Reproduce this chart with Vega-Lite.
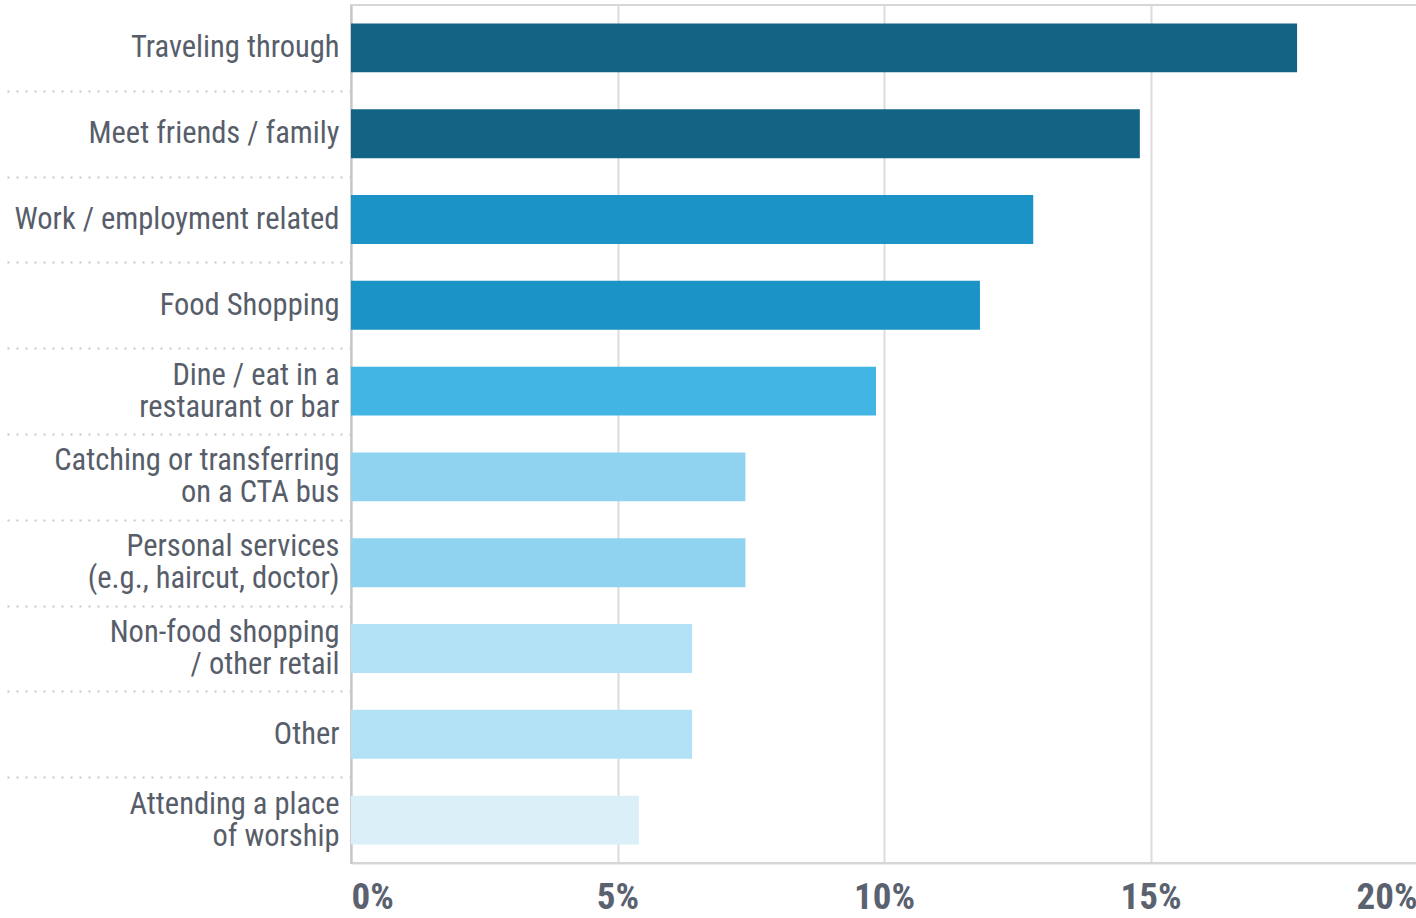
{
  "$schema": "https://vega.github.io/schema/vega-lite/v6.json",
  "width": 1066,
  "height": 858,
  "autosize": {"type": "none"},
  "padding": {"left": 351, "top": 5, "right": 0, "bottom": 55},
  "background": "white",
  "config": {"view": {"stroke": "#d6d6d6", "strokeWidth": 2}},
  "data": {
    "values": [
      {"reason": "Traveling through", "pct": 17.75},
      {"reason": "Meet friends / family", "pct": 14.8},
      {"reason": "Work / employment related", "pct": 12.8},
      {"reason": "Food Shopping", "pct": 11.8},
      {"reason": "Dine / eat in a|restaurant or bar", "pct": 9.85},
      {"reason": "Catching or transferring|on a CTA bus", "pct": 7.4},
      {"reason": "Personal services|(e.g., haircut, doctor)", "pct": 7.4},
      {"reason": "Non-food shopping|/ other retail", "pct": 6.4},
      {"reason": "Other", "pct": 6.4},
      {"reason": "Attending a place|of worship", "pct": 5.4}
    ]
  },
  "mark": {"type": "bar"},
  "encoding": {
    "y": {
      "field": "reason",
      "type": "nominal",
      "sort": null,
      "scale": {"paddingInner": 0.43, "paddingOuter": 0.215},
      "axis": {
        "title": null,
        "domain": true,
        "domainColor": "#c6c6c6",
        "domainWidth": 2,
        "ticks": true,
        "tickOffset": -42.9,
        "tickSize": 345,
        "tickDash": [2, 7],
        "tickColor": "#c8c8c8",
        "tickWidth": 2,
        "tickOpacity": {"condition": {"test": "datum.value === 'Traveling through'", "value": 0}, "value": 1},
        "labelPadding": -333,
        "labelBaseline": "middle",
        "labelOffset": {"condition": {"test": "indexof(datum.value, '|') >= 0", "value": 26.9}, "value": 42.9},
        "labelFont": "Liberation Sans Narrow, Roboto Condensed, Roboto, sans-serif",
        "labelFontSize": 30.5,
        "labelColor": "#575e6a",
        "labelLineHeight": 32,
        "labelLimit": 400,
        "labelExpr": "split(datum.value, '|')"
      }
    },
    "x": {
      "field": "pct",
      "type": "quantitative",
      "scale": {"domain": [0, 20], "nice": false},
      "axis": {
        "title": null,
        "values": [0, 5, 10, 15, 20],
        "grid": true,
        "gridColor": "#dcdcdc",
        "gridWidth": 2,
        "ticks": false,
        "domain": true,
        "domainColor": "#d6d6d6",
        "domainWidth": 2,
        "labelExpr": "datum.value + '%'",
        "labelFlush": true,
        "labelFont": "Liberation Sans Narrow, Roboto Condensed, Roboto, sans-serif",
        "labelFontSize": 37,
        "labelFontWeight": "bold",
        "labelColor": "#5a6270",
        "labelPadding": 16
      }
    },
    "color": {
      "field": "pct",
      "type": "quantitative",
      "scale": {
        "type": "threshold",
        "domain": [6, 7, 9, 11, 14],
        "range": ["#daeff8", "#b3e1f5", "#8fd3f0", "#42b5e5", "#1b93c6", "#136384"]
      },
      "legend": null
    }
  }
}
